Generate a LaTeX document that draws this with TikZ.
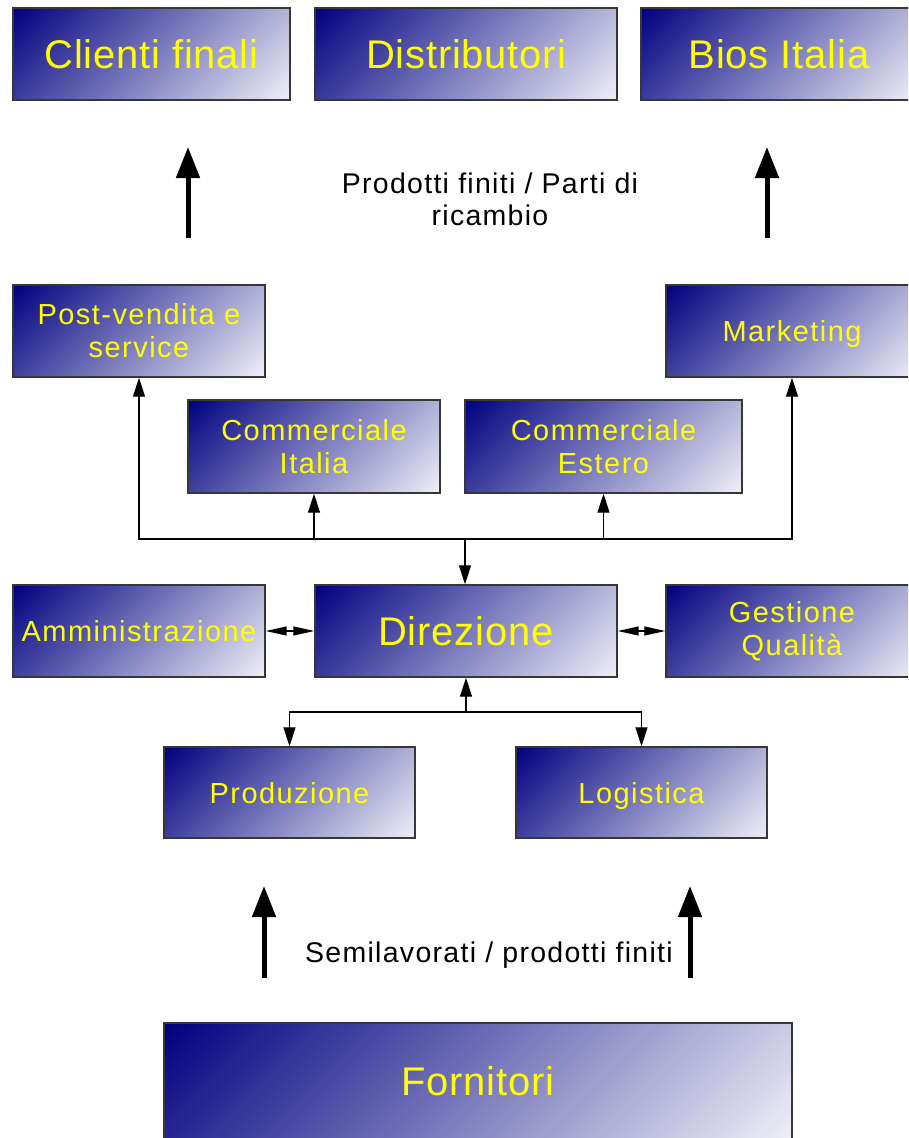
\documentclass[tikz,border=0pt]{standalone}
\usepackage{fontspec}
\setmainfont{Liberation Sans}
\usetikzlibrary{arrows.meta}
\definecolor{txtyellow}{RGB}{255,255,0}
\definecolor{edge}{RGB}{55,55,55}
% diagonal gradient (45 degrees in picture space) from navy at top-left to near white at bottom-right
\newcommand\mkdiag[3]{%
  \pgfdeclarefunctionalshading{#1}{\pgfpoint{0bp}{0bp}}{\pgfpoint{100bp}{100bp}}{}{%
    75 exch sub #3 mul exch 25 sub #2 mul add 50 #2 #3 add mul div
    dup 0 lt {pop 0} if dup 1 gt {pop 1} if
    dup 0.94 mul exch dup 0.94 mul exch 0.47 mul 0.5 add}}
\mkdiag{dgA}{277}{92}
\mkdiag{dgB}{302}{92}
\mkdiag{dgC}{252}{92}
\mkdiag{dgD}{628}{116}
\begin{document}
\begin{tikzpicture}[x=1pt,y=-1pt,
 box/.style={draw=edge, line width=1.4pt, shade, shading angle=0, text=txtyellow, inner sep=0pt, align=center},
 big/.style={font=\fontsize{40}{45}\selectfont\addfontfeatures{LetterSpace=2}},
 mid/.style={font=\fontsize{29}{33}\selectfont\addfontfeatures{LetterSpace=5}},
 oneline/.style={text height=21pt, text depth=0pt},
 lbl/.style={font=\fontsize{28.5}{32}\selectfont\addfontfeatures{LetterSpace=4.5}, text=black, align=center, inner sep=0pt},
 conn/.style={line width=1.2pt, draw=black},
 thin/.style={-{Triangle[length=19pt,width=12pt]}},
 dbl/.style={{Triangle[length=21pt,width=9pt]}-{Triangle[length=21pt,width=9pt]}},
 bigarrow/.style={line width=5pt, -{Triangle[length=31pt,width=23pt]}},
]
\useasboundingbox (0,0) rectangle (908,1138);
\clip (0,0) rectangle (908,1138);

% top row
\node[box,shading=dgA,big,minimum width=277,minimum height=92] (cf) at (151.5,54) {Clienti finali};
\node[box,shading=dgB,big,minimum width=302,minimum height=92] (dist) at (466,54) {Distributori};
\node[box,shading=dgA,big,minimum width=276,minimum height=92] (bios) at (779,54) {Bios Italia};

% flow label top
\coordinate (ta1) at (188,238);
\coordinate (tb1) at (188,147);
\coordinate (ta2) at (767,238);
\coordinate (tb2) at (767,147);
\draw[bigarrow] (ta1) -- (tb1);
\draw[bigarrow] (ta2) -- (tb2);
\node[lbl] (pf) at (490,199) {Prodotti finiti / Parti di\\ricambio};

% second row
\node[box,shading=dgC,mid,minimum width=252,minimum height=92] (post) at (139,331) {Post-vendita e\\service};
\node[box,shading=dgC,mid,oneline,minimum width=252,minimum height=92] (mkt) at (792,331) {Marketing};
\node[box,shading=dgC,mid,minimum width=252,minimum height=93] (ci) at (314,446.5) {Commerciale\\Italia};
\node[box,shading=dgA,mid,minimum width=277,minimum height=93] (ce) at (603.5,446.5) {Commerciale\\Estero};

% middle row
\node[box,shading=dgC,mid,oneline,minimum width=252,minimum height=92] (amm) at (139,631) {Amministrazione};
\node[box,shading=dgB,big,minimum width=302,minimum height=92] (dir) at (466,631) {Direzione};
\node[box,shading=dgC,mid,minimum width=252,minimum height=92] (gq) at (792,631) {Gestione\\Qualità};

% lower row
\node[box,shading=dgC,mid,oneline,minimum width=251,minimum height=91] (prod) at (289.5,792.5) {Produzione};
\node[box,shading=dgC,mid,oneline,minimum width=251,minimum height=91] (log) at (641.5,792.5) {Logistica};

% suppliers
\node[box,shading=dgD,big,minimum width=628,minimum height=116] (forn) at (478,1081) {Fornitori};

% connectors upper bus
\coordinate (bus) at (465,539);
\draw[conn,thin] (bus) -- (bus |- dir.north);
\draw[conn,thin] (bus) -| (post.south);
\draw[conn,thin] (bus) -| (ci.south);
\draw[conn,thin] (bus) -| (ce.south);
\draw[conn,thin] (bus) -| (mkt.south);

% side double arrows
\draw[conn,dbl] (amm.east) -- (dir.west);
\draw[conn,dbl] (dir.east) -- (gq.west);

% lower bus
\coordinate (pbus) at (466,712);
\draw[conn,thin] (pbus) -- (dir.south);
\draw[conn,thin] (pbus) -| (prod.north);
\draw[conn,thin] (pbus) -| (log.north);

% supplier arrows
\coordinate (ba1) at (264,978);
\coordinate (bb1) at (264,886);
\coordinate (ba2) at (690,978);
\coordinate (bb2) at (690,886);
\draw[bigarrow] (ba1) -- (bb1);
\draw[bigarrow] (ba2) -- (bb2);
\node[lbl] (sl) at (489,955) {Semilavorati / prodotti finiti};
\end{tikzpicture}
\end{document}
